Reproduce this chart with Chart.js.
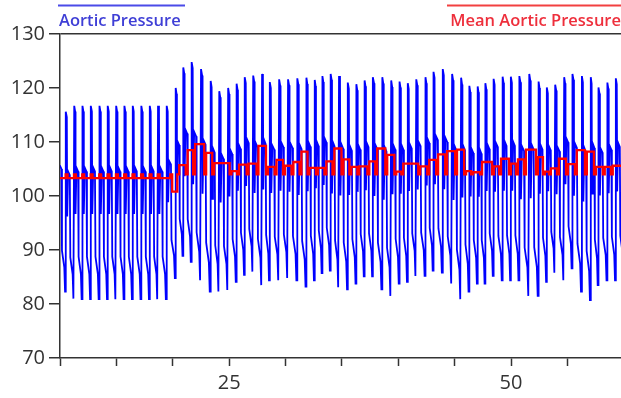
<!DOCTYPE html>
<html>
<head>
<meta charset="utf-8">
<script src="https://cdn.jsdelivr.net/npm/chart.js@4.4.1/dist/chart.umd.min.js"></script>
<style>
  html, body { margin: 0; padding: 0; background: #fff; }
  #wrap { width: 621px; height: 398px; position: relative; }
</style>
</head>
<body>
<div id="wrap"><canvas id="pressureChart"></canvas></div>
<script>
// beat onsets (upstroke times)
const beatTimes = [9.76, 10.50, 11.24, 11.97, 12.72, 13.48, 14.22, 14.96, 15.69, 16.43, 17.19, 17.94, 18.67, 19.44,
    20.24, 20.91, 21.65, 22.48, 23.34, 24.10, 24.89, 25.64, 26.37, 27.11, 27.90, 28.58, 29.41, 30.20, 31.02, 31.83,
    32.57, 33.25, 33.98, 34.72, 35.51, 36.26, 36.99, 37.73, 38.56, 39.35, 40.09, 40.82, 41.57, 42.39, 43.10, 43.92,
    44.75, 45.55, 46.28, 47.02, 47.70, 48.43, 49.23, 49.97, 50.71, 51.59, 52.42, 53.16, 53.89, 54.69, 55.42, 56.26,
    57.05, 57.73, 58.52, 59.27];
const systolic = [116.7, 115.6, 116.7, 116.7, 116.7, 116.7, 116.7, 116.7, 116.7, 116.7, 116.7, 116.7, 116.7, 116.7,
    120, 123.8, 124.8, 123.5, 121.3, 119.4, 120, 120.8, 122, 122.3,
    122.6, 121.1, 121.6, 121.6, 121.8, 121.9, 121.5, 122.2, 122.6, 122.2,
    121, 120.7, 121.4, 122, 122, 121.4, 121.2, 120.9, 121.6, 122,
    123, 123.5, 122.6, 121.9, 120.4, 120.3, 120.9, 121.7, 122.1, 122.1,
    122.2, 122.6, 121.2, 120.1, 120.6, 122, 122.6, 122.2, 122, 120.1,
    121, 121.8];
const diastolic = [81, 82.3, 81, 80.9, 80.9, 80.9, 80.9, 80.9, 80.9, 80.9, 80.9, 80.9, 80.9, 80.9,
    84.8, 88.9, 87.8, 84.4, 82.3, 82.3, 82.6, 84.1, 85.4, 86,
    83.5, 84.4, 84.4, 84.8, 84.4, 83.2, 84.4, 85.7, 86.2, 83.1,
    82.7, 83.8, 85.1, 85.1, 82.7, 81.5, 83.8, 84.1, 85.2, 85.2,
    86.2, 85.8, 83.8, 80.9, 82.3, 83.8, 83.8, 85.2, 84.4, 84.4,
    84.4, 81.5, 81.5, 84.1, 85.8, 84.4, 86.6, 82.3, 80.7, 83.5,
    84.4, 84.4];
// shape of one pulse: part of the beat, part of the pulse height
const pulseOffsets = [0, 0.03, 0.14, 0.19, 0.3, 0.5, 0.56, 0.84, 0.93];
const pulseLevels = [0, 1, 0.97, 0.44, 0.68, 0.66, 0.22, 0.13, 0];

// mean pressure: change times and held levels, dipping to the base at each change
const meanTimes = [9.8, 10.50, 11.24, 11.97, 12.72, 13.48, 14.22, 14.96, 15.69, 16.43, 17.19, 17.94, 18.67,
    19.78, 20.40, 21.15, 21.81, 22.79, 23.50, 25.04, 25.71, 26.55, 27.43,
    28.27, 29.03, 29.78, 30.53, 31.24, 31.95, 32.70, 33.45, 34.16, 34.96,
    35.66, 36.37, 37.26, 37.96, 38.85, 39.65, 40.27, 41.77, 42.57, 43.36,
    44.16, 45.04, 45.84, 46.46, 47.26, 48.32, 48.94, 49.82, 50.44, 51.15,
    52.21, 52.83, 53.36, 54.07, 54.87, 55.66, 56.55, 57.35, 58.14, 58.85];
const meanLevels = [103.3, 103.3, 103.3, 103.3, 103.3, 103.3, 103.3, 103.3, 103.3, 103.3, 103.3, 103.3, 103.3,
    100.8, 105.7, 108.5, 109.6, 108, 106.1, 104.6, 105.8, 106, 109.3,
    105.4, 106.7, 105.6, 106.3, 108.2, 105.2, 105.2, 106.4, 108.8, 106.8,
    105.4, 105.5, 106.4, 108.8, 107.6, 104.5, 106, 105.5, 106.7, 107.7,
    108.3, 108.6, 104.6, 104.4, 106.3, 105.5, 106.9, 106, 106.8, 108.6,
    107.2, 104.5, 105.1, 106.9, 105.9, 108.5, 108.2, 105.4, 105.4, 105.6];
const meanBase = 104;

const seriesNames = ['Aortic Pressure', 'Mean Aortic Pressure'];
const xLabelled = [25, 50];

const aorticPoints = [];
beatTimes.forEach((t, i) => {
    const last = i === beatTimes.length - 1;
    const period = last ? 0.75 : beatTimes[i + 1] - t;
    const nextDia = last ? diastolic[i] : diastolic[i + 1];
    pulseOffsets.forEach((o, k) => {
        const base = k < 3 ? diastolic[i] : nextDia;
        aorticPoints.push({ x: t + o * period, y: base + pulseLevels[k] * (systolic[i] - base) });
    });
});

const meanPoints = [];
meanTimes.forEach((t, i) => {
    meanPoints.push({ x: t, y: meanBase });
    meanPoints.push({ x: t + 0.17, y: meanLevels[i] });
});
meanPoints.push({ x: 60, y: meanLevels[meanLevels.length - 1] });

const headerLegend = {
    id: 'headerLegend',
    afterDraw(chart) {
        const c = chart.ctx;
        c.save();
        c.font = '600 16.5px "Open Sans"';
        c.textBaseline = 'alphabetic';
        c.lineWidth = 2;
        c.strokeStyle = '#4b4be8';
        c.beginPath(); c.moveTo(58, 5.5); c.lineTo(185, 5.5); c.stroke();
        c.fillStyle = '#3f3fd6';
        c.textAlign = 'left';
        c.fillText(seriesNames[0], 59, 26);
        c.strokeStyle = '#f24040';
        c.beginPath(); c.moveTo(447, 5.5); c.lineTo(621, 5.5); c.stroke();
        c.fillStyle = '#ee2f3c';
        c.textAlign = 'right';
        c.fillText(seriesNames[1], 621, 26);
        c.restore();
    }
};

const tickFont = { family: '"Open Sans"', size: 20 };

const ctx = document.getElementById('pressureChart').getContext('2d');
const pressureChart = new Chart(ctx, {
    type: 'line',
    data: {
        datasets: [{
            label: seriesNames[1],
            data: meanPoints,
            borderColor: '#ff0000',
            borderWidth: 2.3,
            pointRadius: 0,
            stepped: true,
            order: 0
        }, {
            label: seriesNames[0],
            data: aorticPoints,
            borderColor: '#0000ff',
            borderWidth: 1.8,
            pointRadius: 0,
            tension: 0,
            order: 1
        }]
    },
    options: {
        responsive: true,
        maintainAspectRatio: false,
        animation: false,
        layout: { padding: { top: 34, right: 0, left: 0, bottom: 0 } },
        plugins: {
            legend: { display: false },
            tooltip: { enabled: false }
        },
        scales: {
            x: {
                type: 'linear',
                min: 10,
                max: 59.75,
                ticks: {
                    stepSize: 5,
                    includeBounds: false,
                    autoSkip: false,
                    maxRotation: 0,
                    color: '#333',
                    font: tickFont,
                    padding: 5,
                    callback: v => xLabelled.includes(v) ? String(v) : ''
                },
                grid: { drawOnChartArea: false, tickLength: 8, tickColor: '#333', tickWidth: 1.5 },
                border: { color: '#333', width: 1.5 },
                afterFit: s => { s.height = 40; }
            },
            y: {
                min: 70,
                max: 130,
                ticks: { stepSize: 10, color: '#333', font: tickFont, padding: 4 },
                grid: {
                    color: c => (c.tick && c.tick.value === 130) ? '#333' : 'rgba(0,0,0,0)',
                    lineWidth: 1.5,
                    tickColor: '#333',
                    tickWidth: 1.5,
                    tickLength: 11
                },
                border: { color: '#333', width: 1.5 },
                afterFit: s => { s.width = 60; }
            }
        }
    },
    plugins: [headerLegend]
});
</script>
</body>
</html>
